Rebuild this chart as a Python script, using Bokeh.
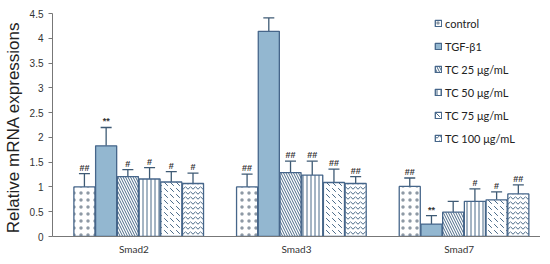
from bokeh.plotting import figure
from bokeh.models import ColumnDataSource, Range1d, FactorRange, Whisker, TeeHead, FixedTicker
from bokeh.transform import dodge
from bokeh.embed import file_html
from bokeh.resources import INLINE
from bokeh.core.properties import value

genes = ["Smad2", "Smad3", "Smad7"]
series_names = ["control", "TGF-β1", "TC 25 μg/mL", "TC 50 μg/mL", "TC 75 μg/mL", "TC 100 μg/mL"]

control = [1.00, 1.00, 1.01]
control_err = [0.27, 0.26, 0.17]
tgf = [1.83, 4.14, 0.25]
tgf_err = [0.37, 0.27, 0.17]
tc25 = [1.21, 1.29, 0.49]
tc25_err = [0.14, 0.23, 0.22]
tc50 = [1.16, 1.24, 0.71]
tc50_err = [0.23, 0.28, 0.25]
tc75 = [1.10, 1.09, 0.74]
tc75_err = [0.21, 0.27, 0.16]
tc100 = [1.07, 1.07, 0.86]
tc100_err = [0.21, 0.14, 0.18]

control_sig = ["##", "##", "##"]
tgf_sig = ["**", "**", "**"]
tc25_sig = ["#", "##", ""]
tc50_sig = ["#", "##", "#"]
tc75_sig = ["#", "##", "#"]
tc100_sig = ["#", "##", "##"]

y_ticks = [0, 0.5, 1, 1.5, 2, 2.5, 3, 3.5, 4, 4.5]
y_tick_labels = ["0", "0.5", "1", "1.5", "2", "2.5", "3", "3.5", "4", "4.5"]

values = [control, tgf, tc25, tc50, tc75, tc100]
errors = [control_err, tgf_err, tc25_err, tc50_err, tc75_err, tc100_err]
sigs = [control_sig, tgf_sig, tc25_sig, tc50_sig, tc75_sig, tc100_sig]

fills = ["white", "#93b7d0", "white", "white", "white", "white"]
hatches = ["dot", " ", "left_diagonal_line", "vertical_line", "left_diagonal_dash", "horizontal_wave"]
hatch_scales = [7, 12, 5, 4, 6, 5]
hatch_colors = ["#8e99a5", "#4a6a88", "#4a6a88", "#4a6a88", "#4a6a88", "#4a6a88"]

outline = "#46668a"
err_color = "#3e5a74"

p = figure(frame_width=488, frame_height=223, x_range=FactorRange(factors=genes), y_range=Range1d(0, 4.5),
           output_backend="svg", toolbar_location=None,
           min_border_left=46, min_border_right=0, min_border_top=13, min_border_bottom=17)

bw = 0.1335
shift = 0.03
for i in range(6):
    off = (i - 2.5) * bw + shift
    v = values[i]
    e = errors[i]
    src = ColumnDataSource(dict(gene=genes, val=v, upper=[a + b for a, b in zip(v, e)], sig=sigs[i]))
    p.vbar(x=dodge("gene", off, range=p.x_range), top="val", width=bw * 0.97, source=src,
           fill_color=fills[i], line_color=outline, line_width=1.3,
           hatch_pattern=hatches[i], hatch_color=hatch_colors[i], hatch_scale=hatch_scales[i], hatch_weight=1,
           legend_label=series_names[i])
    w = Whisker(base=dodge("gene", off, range=p.x_range), upper="upper", lower="val", source=src,
                line_color=err_color, line_width=1.3,
                upper_head=TeeHead(size=11, line_color=err_color, line_width=1.3), lower_head=None)
    p.add_layout(w)
    p.text(x=dodge("gene", off, range=p.x_range), y="upper", text="sig", source=src,
           text_align="center", text_baseline="bottom", y_offset=-1,
           text_font=value("Liberation Sans"), text_font_size="9px", text_font_style="bold",
           text_color="#333333")

p.xgrid.visible = False
p.ygrid.visible = False
p.outline_line_color = None

p.yaxis.ticker = FixedTicker(ticks=y_ticks)
p.yaxis.major_label_overrides = {t: l for t, l in zip(y_ticks, y_tick_labels)}
p.yaxis.minor_tick_line_color = None
p.yaxis.major_tick_out = 4
p.yaxis.major_tick_in = 0
p.yaxis.axis_line_color = "#777777"
p.yaxis.major_tick_line_color = "#777777"
p.yaxis.major_label_text_font = "Liberation Sans"
p.yaxis.major_label_text_font_size = "10px"
p.yaxis.major_label_text_color = "#333333"
p.yaxis.major_label_standoff = 5
p.yaxis.axis_label = "Relative  mRNA expressions"
p.yaxis.axis_label_text_font = "Liberation Sans"
p.yaxis.axis_label_text_font_size = "17px"
p.yaxis.axis_label_text_font_style = "normal"
p.yaxis.axis_label_text_color = "#222222"
p.yaxis.axis_label_standoff = 4

p.xaxis.major_tick_line_color = None
p.xaxis.minor_tick_line_color = None
p.xaxis.axis_line_color = "#777777"
p.xaxis.major_label_text_font = "Lato"
p.xaxis.major_label_text_font_size = "10px"
p.xaxis.major_label_text_color = "#333333"
p.xaxis.major_label_standoff = 0

p.legend.location = (382, 91)
p.legend.padding = 0
p.legend.margin = 0
p.legend.spacing = 9
p.legend.glyph_width = 8
p.legend.glyph_height = 8
p.legend.label_height = 14
p.legend.label_standoff = 3
p.legend.label_text_font = "Lato"
p.legend.label_text_font_size = "11px"
p.legend.label_text_color = "#222222"
p.legend.border_line_color = None
p.legend.background_fill_alpha = 0

open("out.html", "w").write(file_html(p, INLINE))
